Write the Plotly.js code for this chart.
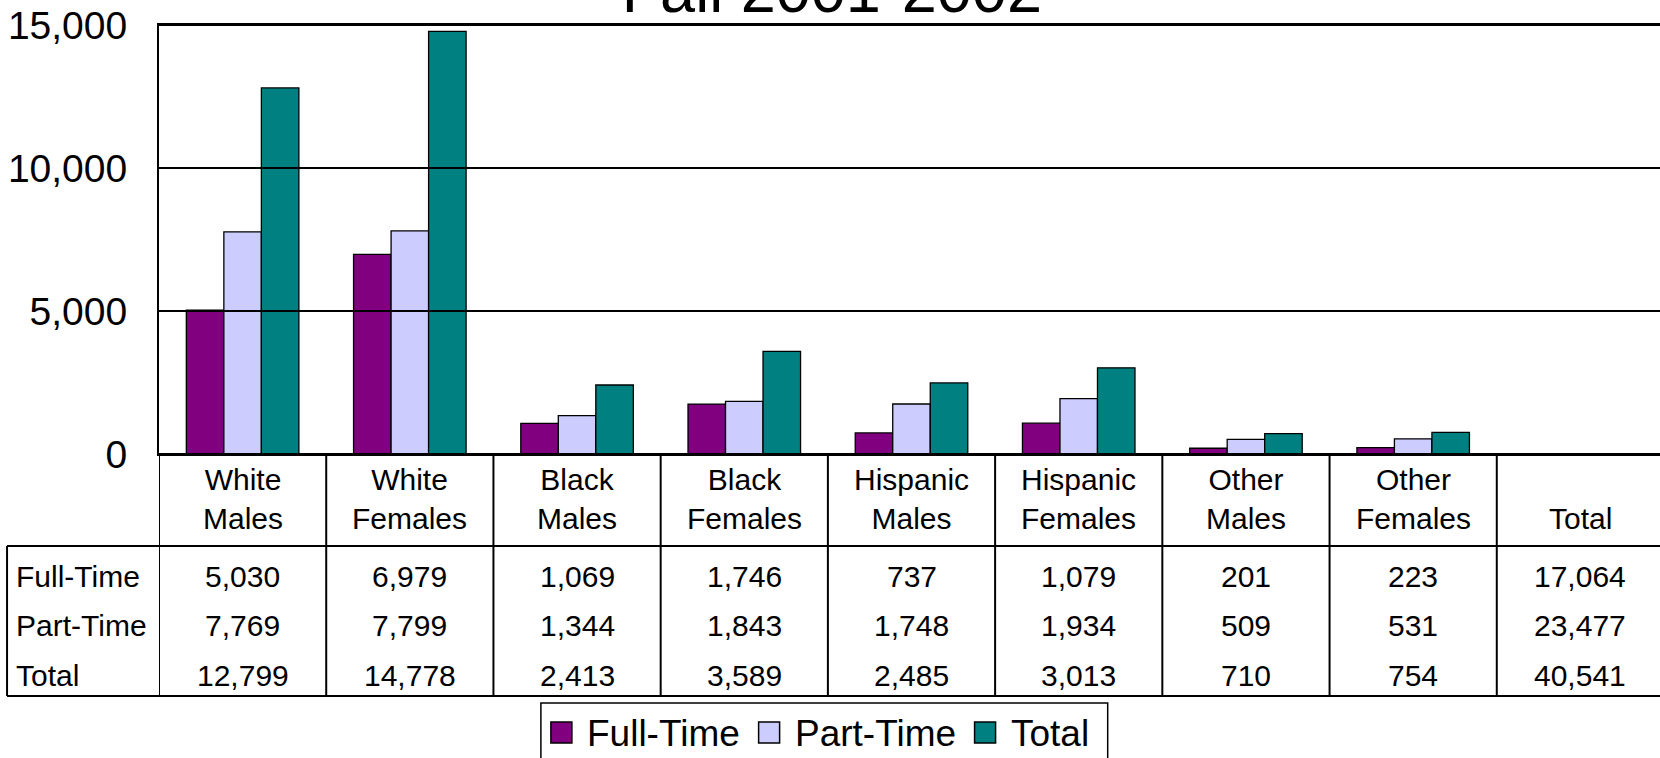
<!DOCTYPE html>
<html><head><meta charset="utf-8">
<script src="https://cdn.plot.ly/plotly-3.0.1.min.js"></script>
<style>
html,body{margin:0;padding:0;overflow:hidden;background:#fff;width:1660px;height:758px;position:relative}
#chart{position:absolute;left:0;top:-70px;width:1700px;height:850px}
</style>
</head><body><div id="chart"></div>
<script>
// ---- data ----
const chartTitle = 'Fall 2001-2002';
const categories = ['White<br>Males','White<br>Females','Black<br>Males','Black<br>Females','Hispanic<br>Males','Hispanic<br>Females','Other<br>Males','Other<br>Females','Total'];
const seriesNames = ['Full-Time','Part-Time','Total'];
const fullTime = [5030, 6979, 1069, 1746, 737, 1079, 201, 223, 17064];
const partTime = [7769, 7799, 1344, 1843, 1748, 1934, 509, 531, 23477];
const totals   = [12799, 14778, 2413, 3589, 2485, 3013, 710, 754, 40541];
const seriesColors = ['#800080', '#CCCCFF', '#008080'];
const yTicks = [0, 5000, 10000, 15000];

// ---- layout geometry (page pixels) ----
const OFF = 70, FW = 1700, FH = 850;
const CW = 167.27;
const PX0 = 159, PX1 = 159 + categories.length * CW, PY0 = 25, PY1 = 454;
const px = x => (x - PX0) / (PX1 - PX0);
const py = y => (PY1 - y) / (PY1 - PY0);
const FONT = 'Liberation Sans, Arial, sans-serif';

const series = [fullTime, partTime, totals];
const nBars = categories.length - 1; // the Total column has no bars
const traces = series.map((vals, i) => ({
  type: 'bar',
  name: seriesNames[i],
  x: categories.slice(0, nBars),
  y: vals.slice(0, nBars),
  marker: {color: seriesColors[i], line: {color: '#000', width: 1.3}},
  showlegend: false,
  hoverinfo: 'skip'
}));

const shapes = [];
const annotations = [];

// gridlines drawn over bars
yTicks.forEach(v => {
  shapes.push({type: 'line', xref: 'paper', yref: 'y', x0: 0, x1: 1, y0: v, y1: v,
    line: {color: '#000', width: 2}, layer: 'above'});
});

// data table: header labels
categories.forEach((c, i) => {
  const n = c.split('<br>').length;
  annotations.push({xref: 'x', yref: 'paper', x: i, y: py(518 - (n - 1) * 19.5),
    xanchor: 'center', yanchor: 'middle', text: c, showarrow: false,
    font: {family: FONT, size: 30, color: '#000'}});
});
// data table: rows
const rowY = [576, 625, 675];
series.forEach((vals, r) => {
  annotations.push({xref: 'paper', yref: 'paper', x: px(14), y: py(rowY[r]),
    xanchor: 'left', yanchor: 'middle', text: seriesNames[r], showarrow: false,
    font: {family: FONT, size: 30, color: '#000'}});
  vals.forEach((v, i) => {
    annotations.push({xref: 'x', yref: 'paper', x: i, y: py(rowY[r]),
      xanchor: 'center', yanchor: 'middle', text: v.toLocaleString('en-US'), showarrow: false,
      font: {family: FONT, size: 30, color: '#000'}});
  });
});
// data table lines
const TL = {color: '#000', width: 2};
for (let k = 0; k <= categories.length; k++) {
  shapes.push({type: 'line', xref: 'x', yref: 'paper', x0: k - 0.5, x1: k - 0.5,
    y0: py(PY1), y1: py(696), line: TL});
}
shapes.push({type: 'line', xref: 'paper', yref: 'paper', x0: px(7), x1: px(7), y0: py(546), y1: py(696), line: TL});
shapes.push({type: 'line', xref: 'paper', yref: 'paper', x0: px(7), x1: 1, y0: py(546), y1: py(546), line: TL});
shapes.push({type: 'line', xref: 'paper', yref: 'paper', x0: px(7), x1: 1, y0: py(696), y1: py(696), line: TL});

// legend (drawn manually for Excel-like large swatches)
const ctx = document.createElement('canvas').getContext('2d');
ctx.font = '37px "Liberation Sans"';
let cx = 551, lastEnd = 0;
seriesNames.forEach((n, i) => {
  shapes.push({type: 'rect', xref: 'paper', yref: 'paper', x0: px(cx), x1: px(cx + 21),
    y0: py(743), y1: py(722), fillcolor: seriesColors[i], line: {color: '#000', width: 1.5}});
  annotations.push({xref: 'paper', yref: 'paper', x: px(cx + 34), y: py(733),
    xanchor: 'left', yanchor: 'middle', text: n, showarrow: false,
    font: {family: FONT, size: 37, color: '#000'}});
  const w = ctx.measureText(n).width;
  lastEnd = cx + 36 + w;
  cx = lastEnd + 19;
});
shapes.push({type: 'rect', xref: 'paper', yref: 'paper', x0: px(541), x1: px(lastEnd + 19),
  y0: py(790), y1: py(703), line: {color: '#000', width: 1.5}});

const layout = {
  width: FW, height: FH,
  margin: {l: PX0, r: FW - PX1, t: PY0 + OFF, b: FH - (PY1 + OFF), pad: 0},
  paper_bgcolor: '#fff', plot_bgcolor: '#fff',
  font: {family: FONT, color: '#000'},
  title: {text: chartTitle, font: {family: FONT, size: 63, color: '#000'},
    xref: 'paper', x: px(832), xanchor: 'center',
    yref: 'container', y: 1 - (OFF - 10) / FH, yanchor: 'middle'},
  barmode: 'group', bargap: 0.327, bargroupgap: 0,
  xaxis: {type: 'category', categoryorder: 'array', categoryarray: categories,
    range: [-0.5, categories.length - 0.5], showticklabels: false, ticks: '',
    showline: true, mirror: true, linecolor: '#000', linewidth: 2, showgrid: false, zeroline: false, fixedrange: true},
  yaxis: {range: [0, 15000], tickvals: yTicks, tickformat: ',', ticks: '',
    showline: true, mirror: true, linecolor: '#000', linewidth: 2, showgrid: false, zeroline: false,
    tickfont: {family: FONT, size: 39, color: '#000'}, ticklabelstandoff: 22, fixedrange: true},
  shapes: shapes,
  annotations: annotations,
  showlegend: false
};

Plotly.newPlot('chart', traces, layout, {displayModeBar: false, staticPlot: true});
</script>
</body></html>
